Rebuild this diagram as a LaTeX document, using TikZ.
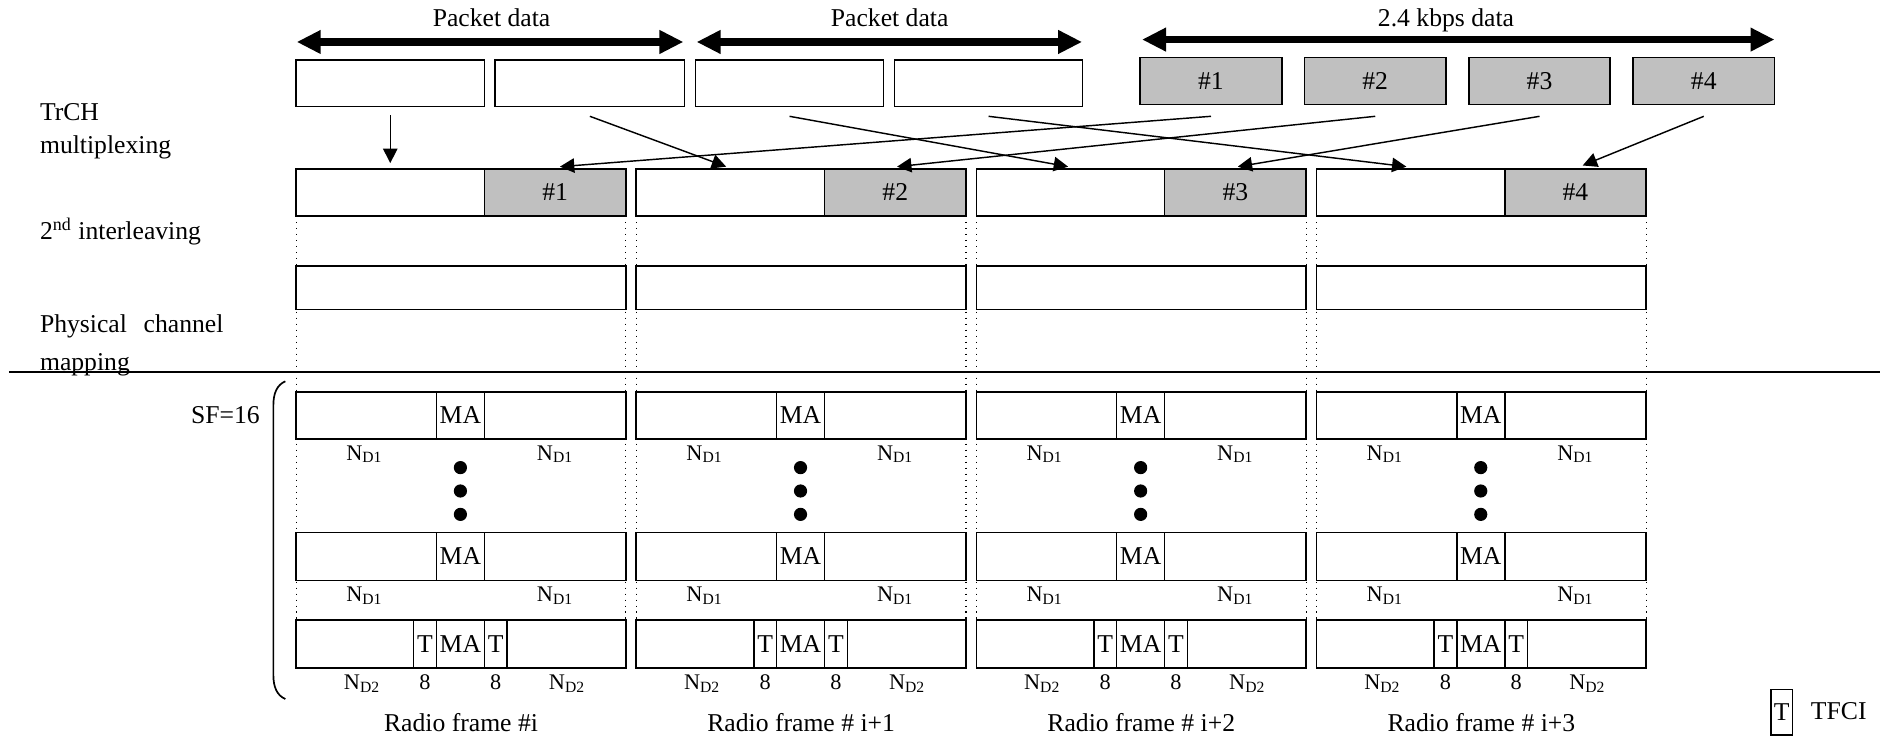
\documentclass[tikz,border=0pt]{standalone}
\usepackage{fontspec}
\setmainfont{Liberation Serif}
\usetikzlibrary{arrows.meta,calc}
\definecolor{boxgray}{HTML}{C0C0C0}
\newcommand\bx[7]{\node[bxs,fill=#6,minimum width={((#4)-(#2))*0.5pt},minimum height={((#5)-(#3))*0.5pt},anchor=north west] (#1) at (#2,#3) {#7};}
\begin{document}
\begin{tikzpicture}[x=0.5pt,y=-0.5pt,
  font=\fontsize{10.7}{12.8}\selectfont,
  bxs/.style={draw,line width=0.65pt,inner sep=0pt,outer sep=0pt,rectangle},
  thick arrow/.style={line width=3pt,{Triangle[length=10pt,width=9.3pt]}-{Triangle[length=10pt,width=9.3pt]}},
  thin arrow/.style={line width=0.6pt,-{Triangle[length=6pt,width=6pt]}},
  lbl/.style={inner sep=0pt,anchor=base west},
  ctr/.style={inner sep=0pt,anchor=base},
  small/.style={font=\fontsize{9.3}{11}\selectfont,inner sep=0pt,anchor=base},
  sep/.style={dotted,line width=0.5pt}
]
\fill[white] (0,0) rectangle (1568,618);
\useasboundingbox (0,0) rectangle (1568,618);

% top transport channel blocks
\bx{p1}{247}{50}{404}{89}{white}{}
\bx{p2}{413}{50}{571}{89}{white}{}
\bx{p3}{580}{50}{737}{89}{white}{}
\bx{p4}{746}{50}{903}{89}{white}{}
\bx{t1}{951}{48}{1069}{87}{boxgray}{\#1}
\bx{t2}{1088}{48}{1206}{87}{boxgray}{\#2}
\bx{t3}{1225}{48}{1343}{87}{boxgray}{\#3}
\bx{t4}{1362}{48}{1480}{87}{boxgray}{\#4}

% span arrows
\draw[thick arrow] ($(p1.north west)+(0.5,-15)$) -- ($(p2.north east)+(-1,-15)$);
\draw[thick arrow] ($(p3.north west)+(1,-15)$) -- ($(p4.north east)+(-0.5,-15)$);
\draw[thick arrow] ($(t1.north west)+(1.5,-15)$) -- ($(t4.north east)+(0,-15)$);
\node[ctr] (l1) at (410,22.5) {Packet data};
\node[ctr] (l2) at (742,22.5) {Packet data};
\node[ctr] (l3) at (1206,22.5) {2.4 kbps data};

% left labels
\node[lbl] (s1) at (33,100.6) {TrCH};
\node[lbl] (s2) at (33,127.9) {multiplexing};
\node[lbl] (s3) at (33,200) {2\textsuperscript{nd} interleaving};
\node[lbl] (s4) at (33,277.5) {\makebox[76.5pt][s]{Physical channel}};
\node[lbl] (s5) at (33,308.6) {mapping};
\draw[line width=0.8pt] (7.5,310) -- (1568,310);

\node[inner sep=0pt,anchor=base east] (sf) at (217,353.6) {SF=16};
\draw[line width=0.7pt] (238,318) .. controls (231,321) and (228,328) .. (228,338) -- (228,563) .. controls (228,573) and (231,580) .. (238,583);

% radio frames
\foreach \k in {0,1,2,3}{
  \pgfmathsetmacro\L{247+283.67*\k}
  \pgfmathsetmacro\Lg{\L+157}
  \pgfmathsetmacro\R{\L+275}
  \pgfmathsetmacro\Ma{\L+117}
  \pgfmathsetmacro\Ta{\L+98}
  \pgfmathsetmacro\Tb{\L+176}
  \pgfmathtruncatemacro\n{\k+1}
  \draw[sep] (\L,180) -- (\L,517);
  \draw[sep] (\R,180) -- (\R,517);
  \bx{w\n}{\L}{141}{\Lg}{180}{white}{}
  \bx{g\n}{\Lg}{141}{\R}{180}{boxgray}{\#\n}
  \bx{i\n}{\L}{222}{\R}{258}{white}{}
  \bx{a\n}{\L}{327}{\R}{366}{white}{}
  \bx{am\n}{\Ma}{327}{\Lg}{366}{white}{MA}
  \bx{b\n}{\L}{444}{\R}{484}{white}{}
  \bx{bm\n}{\Ma}{444}{\Lg}{484}{white}{MA}
  \bx{c\n}{\L}{517}{\R}{557}{white}{}
  \bx{ct\n}{\Ta}{517}{\Ma}{557}{white}{T}
  \bx{cm\n}{\Ma}{517}{\Lg}{557}{white}{MA}
  \bx{cu\n}{\Lg}{517}{\Tb}{557}{white}{T}
  \node[small] at ($(\L,383.7)+(57,0)$) {N\textsubscript{D1}};
  \node[small] at ($(\L,383.7)+(216,0)$) {N\textsubscript{D1}};
  \node[small] at ($(\L,502)+(57,0)$) {N\textsubscript{D1}};
  \node[small] at ($(\L,502)+(216,0)$) {N\textsubscript{D1}};
  \node[small] at ($(\L,575)+(55,0)$) {N\textsubscript{D2}};
  \node[small] at ($(\L,575)+(107.5,0)$) {8};
  \node[small] at ($(\L,575)+(166.5,0)$) {8};
  \node[small] at ($(\L,575)+(226,0)$) {N\textsubscript{D2}};
  \foreach \yy in {390,409.5,429}{
    \fill ($(\L,\yy)+(137,0)$) circle[radius=2.75pt];
  }
}
\node[ctr] (r1) at ($(w1.west|-0,610)+(137.5,0)$) {Radio frame \#i};
\node[ctr] (r2) at ($(w2.west|-0,610)+(137.5,0)$) {Radio frame \# i+1};
\node[ctr] (r3) at ($(w3.west|-0,610)+(137.5,0)$) {Radio frame \# i+2};
\node[ctr] (r4) at ($(w4.west|-0,610)+(137.5,0)$) {Radio frame \# i+3};

% multiplexing arrows
\draw[thin arrow] ($(p1.south)+(0,7)$) -- ($(w1.north)+(0,-5)$);
\draw[thin arrow] ($(p2.south)+(0,8)$) -- ($(w2.north)+(-3.5,-2)$);
\draw[thin arrow] ($(p3.south)+(0,8)$) -- ($(w3.north)+(-2,-2)$);
\draw[thin arrow] ($(p4.south)+(0,8)$) -- ($(w4.north)+(-3.5,-2)$);
\draw[thin arrow] ($(t1.south)+(0,10)$) -- ($(g1.north)+(4,-2)$);
\draw[thin arrow] ($(t2.south)+(0,10)$) -- ($(g2.north)+(1.5,-2)$);
\draw[thin arrow] ($(t3.south)+(0,10)$) -- ($(g3.north)+(2,-2)$);
\draw[thin arrow] ($(t4.south)+(0,10)$) -- ($(g4.north)+(6,-3)$);

% legend
\bx{tl}{1477}{575}{1495}{613}{white}{T}
\node[lbl] (tfci) at (1510,600) {TFCI};
\end{tikzpicture}
\end{document}
